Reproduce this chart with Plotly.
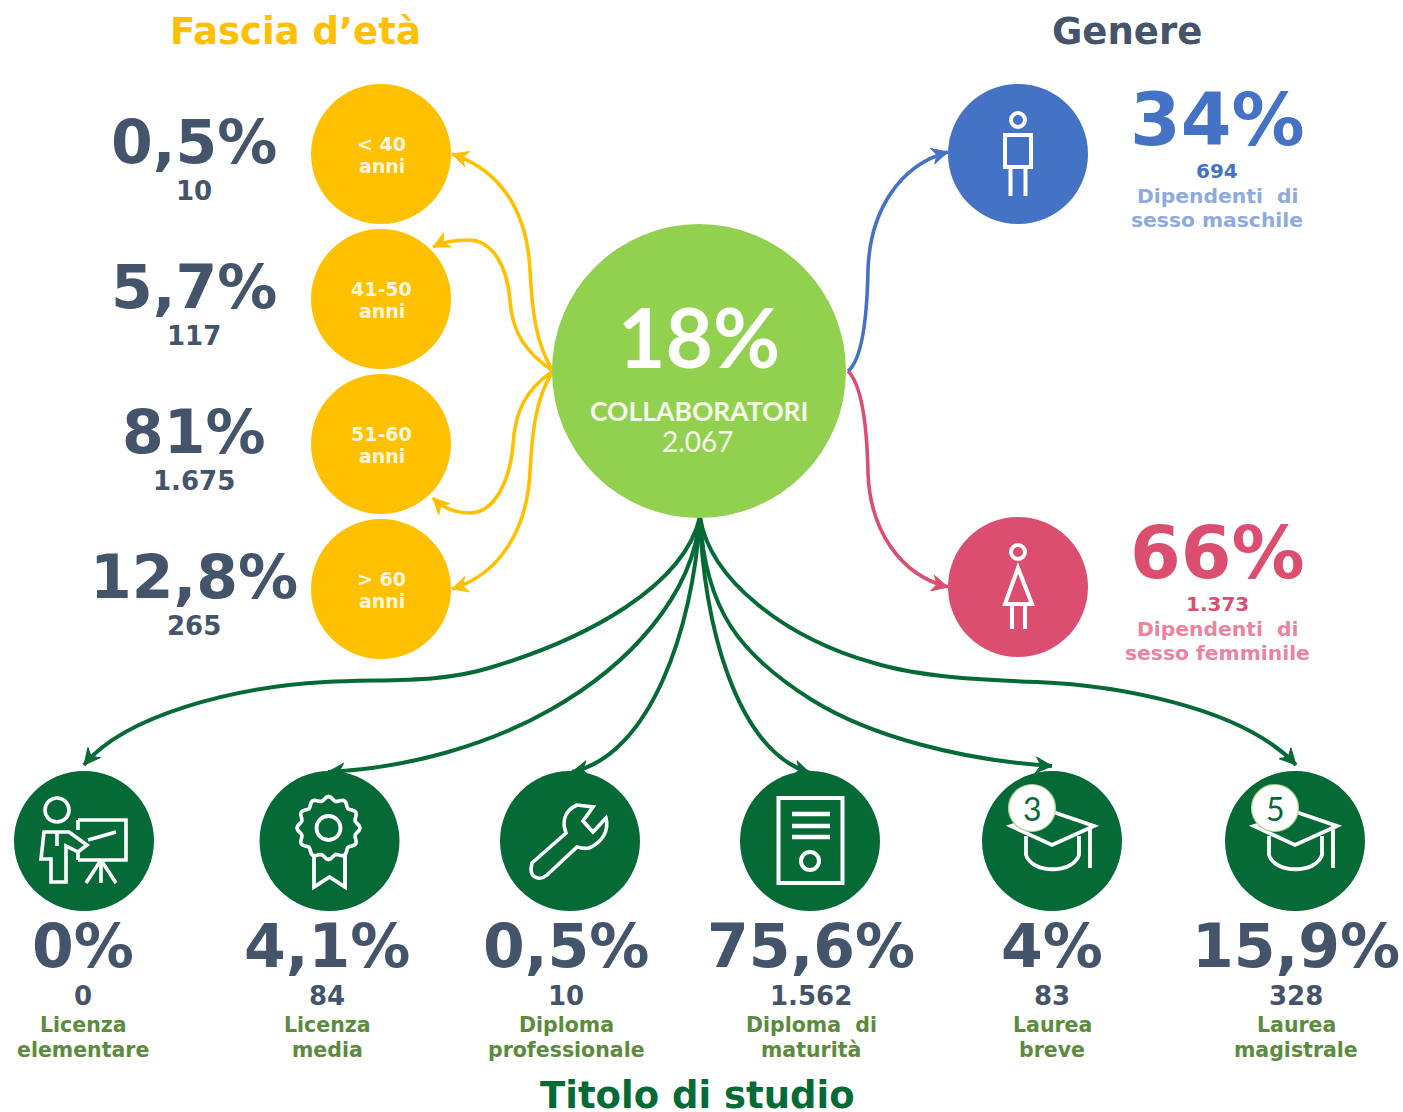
import math
import plotly.graph_objects as go

# ---------- data ----------
age_bands = [["< 40", "anni"], ["41-50", "anni"], ["51-60", "anni"], ["> 60", "anni"]]
age_pct = ["0,5%", "5,7%", "81%", "12,8%"]
age_count = ["10", "117", "1.675", "265"]
gender_pct = ["34%", "66%"]
gender_count = ["694", "1.373"]
gender_label = [["Dipendenti  di", "sesso maschile"], ["Dipendenti  di", "sesso femminile"]]
edu_pct = ["0%", "4,1%", "0,5%", "75,6%", "4%", "15,9%"]
edu_count = ["0", "84", "10", "1.562", "83", "328"]
edu_label = [["Licenza", "elementare"], ["Licenza", "media"], ["Diploma", "professionale"],
             ["Diploma  di", "maturità"], ["Laurea", "breve"], ["Laurea", "magistrale"]]
centre_pct = "18%"
centre_label = "COLLABORATORI"
centre_count = "2.067"

# ---------- styles / layout ----------
YELLOW, LIME, DGREEN = "#FFC000", "#92D14F", "#066A37"
BLUE, PINK, SLATE = "#4472C4", "#DC4E70", "#44546A"
LEAF, LBLUE, LPINK = "#5B8C3C", "#8FAADC", "#EB84A0"
BOLD = "DejaVu Sans"

age_y = [154, 299, 444, 589]
gender_y = [154, 587]
edu_x = [84, 329.5, 570, 810, 1052, 1295]
edu_text_x = [83, 327, 566, 811, 1052, 1296]

fig = go.Figure()
shapes, anns = [], []


def text(x, y, s, size, color, bold=True, family=BOLD):
    anns.append(dict(x=x, y=y, text=f"<b>{s}</b>" if bold else s, showarrow=False,
                     xanchor="center", yanchor="middle", align="center",
                     font=dict(family=family, size=size, color=color)))


def curve(segs, color, width=3.6, head=16):
    """segs: start point followed by cubic triples."""
    d = f"M{segs[0][0]},{segs[0][1]}"
    for i in range(1, len(segs), 3):
        d += " C" + " ".join(f"{p[0]},{p[1]}" for p in segs[i:i + 3])
    shapes.append(dict(type="path", path=d, line=dict(color=color, width=width), layer="below"))
    (ax, ay), (bx, by) = segs[-2], segs[-1]
    n = math.hypot(bx - ax, by - ay)
    ux, uy = (bx - ax) / n, (by - ay) / n
    px, py = -uy, ux
    w = head * 0.5
    tri = (f"M{bx},{by} L{bx - ux * head + px * w},{by - uy * head + py * w} "
           f"L{bx - ux * head * .7},{by - uy * head * .7} "
           f"L{bx - ux * head - px * w},{by - uy * head - py * w} Z")
    shapes.append(dict(type="path", path=tri, fillcolor=color, line=dict(color=color, width=1), layer="below"))


def icon(d, width=3.6, fill=None):
    s = dict(type="path", path=d, line=dict(color="white", width=width), layer="above")
    if fill:
        s["fillcolor"] = fill
    shapes.append(s)


def ring(cx, cy, r, width=3.6, fill=None, line="white"):
    shapes.append(dict(type="circle", x0=cx - r, x1=cx + r, y0=cy - r, y1=cy + r, layer="above",
                       line=dict(color=line, width=width), fillcolor=fill or "rgba(0,0,0,0)"))


# ---------- connectors ----------
O = (553, 371)
curve([O, (536, 345), (532, 310), (530, 270), (527, 210), (500, 170), (452, 154)], YELLOW)
curve([O, (525, 352), (512, 332), (510, 300), (507, 265), (492, 240), (468, 240), (455, 240), (443, 242), (433, 247)], YELLOW)
curve([O, (525, 390), (515, 412), (513, 445), (510, 480), (495, 513), (470, 513), (455, 513), (443, 508), (433, 498)], YELLOW)
curve([O, (536, 397), (532, 432), (530, 472), (527, 530), (500, 574), (452, 589)], YELLOW)

R = (848, 371)
curve([R, (862, 360), (867, 320), (868, 270), (870, 210), (900, 165), (948, 152)], BLUE)
curve([R, (862, 385), (867, 425), (868, 473), (870, 530), (900, 575), (948, 587)], PINK)

B = (700, 517)
G = dict(color=DGREEN, width=4)
curve([B, (684, 585), (590, 638), (489, 668), (440, 683), (390, 679), (325, 682), (235, 687), (125, 715), (84, 765)], **G)
curve([B, (693, 595), (630, 665), (550, 710), (490, 744), (410, 768), (328, 772)], **G)
curve([B, (693, 630), (650, 755), (572, 772)], **G)
curve([B, (703, 620), (735, 750), (810, 773)], **G)
curve([B, (705, 610), (740, 655), (812, 700), (870, 736), (960, 760), (1052, 766)], **G)
curve([B, (710, 580), (785, 638), (874, 663), (920, 677), (980, 680), (1037, 682), (1110, 685), (1240, 705), (1296, 765)], **G)


# ---------- circles ----------
def discs(xs, ys, d, color):
    fig.add_trace(go.Scatter(x=xs, y=ys, mode="markers", hoverinfo="skip", showlegend=False,
                             marker=dict(size=d, color=color, line=dict(width=0))))


discs([381] * 4, age_y, 140, YELLOW)
discs([699], [371], 294, LIME)
discs([1018], [gender_y[0]], 140, BLUE)
discs([1018], [gender_y[1]], 140, PINK)
discs(edu_x, [841] * 6, 140, DGREEN)

# ---------- text ----------
text(295, 31, "Fascia d’età", 37, YELLOW)
text(1127, 31, "Genere", 37, SLATE)
text(697, 1095, "Titolo di studio", 37, DGREEN)

for y, band, pct, cnt in zip(age_y, age_bands, age_pct, age_count):
    text(193.5, y - 12, pct, 60, SLATE)
    text(193.5, y + 37, cnt, 26, SLATE)
    text(381.5, y - 10, band[0], 19, "#FFF6DC")
    text(381.5, y + 12, band[1], 19, "#FFF6DC")

text(699, 336, centre_pct, 82, "white", family="Lato")
text(699, 411, centre_label, 26.5, "#F4FBEA", family="Lato")
text(698, 441, centre_count, 28, "#F4FBEA", bold=False, family="Lato")

for y, col, lcol, pct, cnt, lab in zip(gender_y, (BLUE, PINK), (LBLUE, LPINK), gender_pct, gender_count, gender_label):
    text(1217, y - 35, pct, 73, col)
    text(1217, y + 17, cnt, 20, col)
    text(1217, y + 42, lab[0], 20.3, lcol)
    text(1217, y + 66, lab[1], 20.3, lcol)

for x, pct, cnt, lab in zip(edu_text_x, edu_pct, edu_count, edu_label):
    text(x, 946, pct, 60, SLATE)
    text(x, 996, cnt, 26, SLATE)
    text(x, 1025, lab[0], 20.5, LEAF)
    text(x, 1050, lab[1], 20.5, LEAF)

# ---------- icons ----------
# man
ring(1018, 120, 7, 4)
icon("M1005,135 H1031 V167 H1005 Z M1010.5,167 V196 M1025.5,167 V196", 4)
# woman
ring(1018, 552, 7, 4)
icon("M1018,568 L1005,604 H1032 Z M1012,604 V629 M1025,604 V629", 4)
# teacher
ring(57, 810, 12)
icon("M44,832 H69 L87,845 L78,852 L66,846 V882 H51 V859 H41 Z M57,832 V846")
icon("M78,820 H126 V860 H78 M78,820 V830 M78,860 V852 M88,840 L116,832 M101,860 L86,883 M101,860 L116,883 M101,860 V883")
# medal
cx, cy = 328.5, 828
pts = []
for i in range(96):
    a = 2 * math.pi * i / 96
    r = 29.5 + 2 * math.cos(12 * a)
    pts.append(f"{cx + r * math.cos(a):.1f},{cy + r * math.sin(a):.1f}")
icon("M" + " L".join(pts) + " Z", 3.6)
ring(cx, cy, 12, 3.8)
icon("M314,855 V887 L329.5,877 L345,887 V855", 3.8)
# wrench
icon("M532,863 L566,833 C562,822 564,811 577,805 L593,807 L583,821 L593,832 L606,818 C609,830 603,842 589,848 "
     "C585,849 581,848 577,847 L547,875 C540,881 531,878 531,869 Z", 3.6)
# document
icon("M778.5,798 H842.5 V883 H778.5 Z", 4)
icon("M792,814 H830 M792,826 H830 M792,837 H830", 4.4)
ring(810, 861, 9, 4)
# graduation caps
for dx, badge, bx in ((0, "3", 1032), (243, "5", 1275)):
    icon(f"M{1011 + dx},826 L{1052 + dx},845 L{1094 + dx},826 L{1053 + dx},812 Z "
         f"M{1090 + dx},828 V868 "
         f"M{1026 + dx},836 V855 C{1032 + dx},874 {1073 + dx},874 {1079 + dx},855 V836", 3.8)
    ring(bx, 808, 23.5, 1.2, fill="white", line="#A9D18E")
    text(bx, 808, badge, 32, DGREEN, bold=False, family="Lato")

fig.update_layout(
    width=1403, height=1112, margin=dict(l=0, r=0, t=0, b=0),
    paper_bgcolor="white", plot_bgcolor="white", showlegend=False,
    xaxis=dict(range=[0, 1403], visible=False, fixedrange=True),
    yaxis=dict(range=[1112, 0], visible=False, fixedrange=True),
    shapes=shapes, annotations=anns,
)
fig.write_html("out.html", config={"displayModeBar": False},
               post_script="document.body.style.margin='0';document.body.style.overflow='hidden';")
